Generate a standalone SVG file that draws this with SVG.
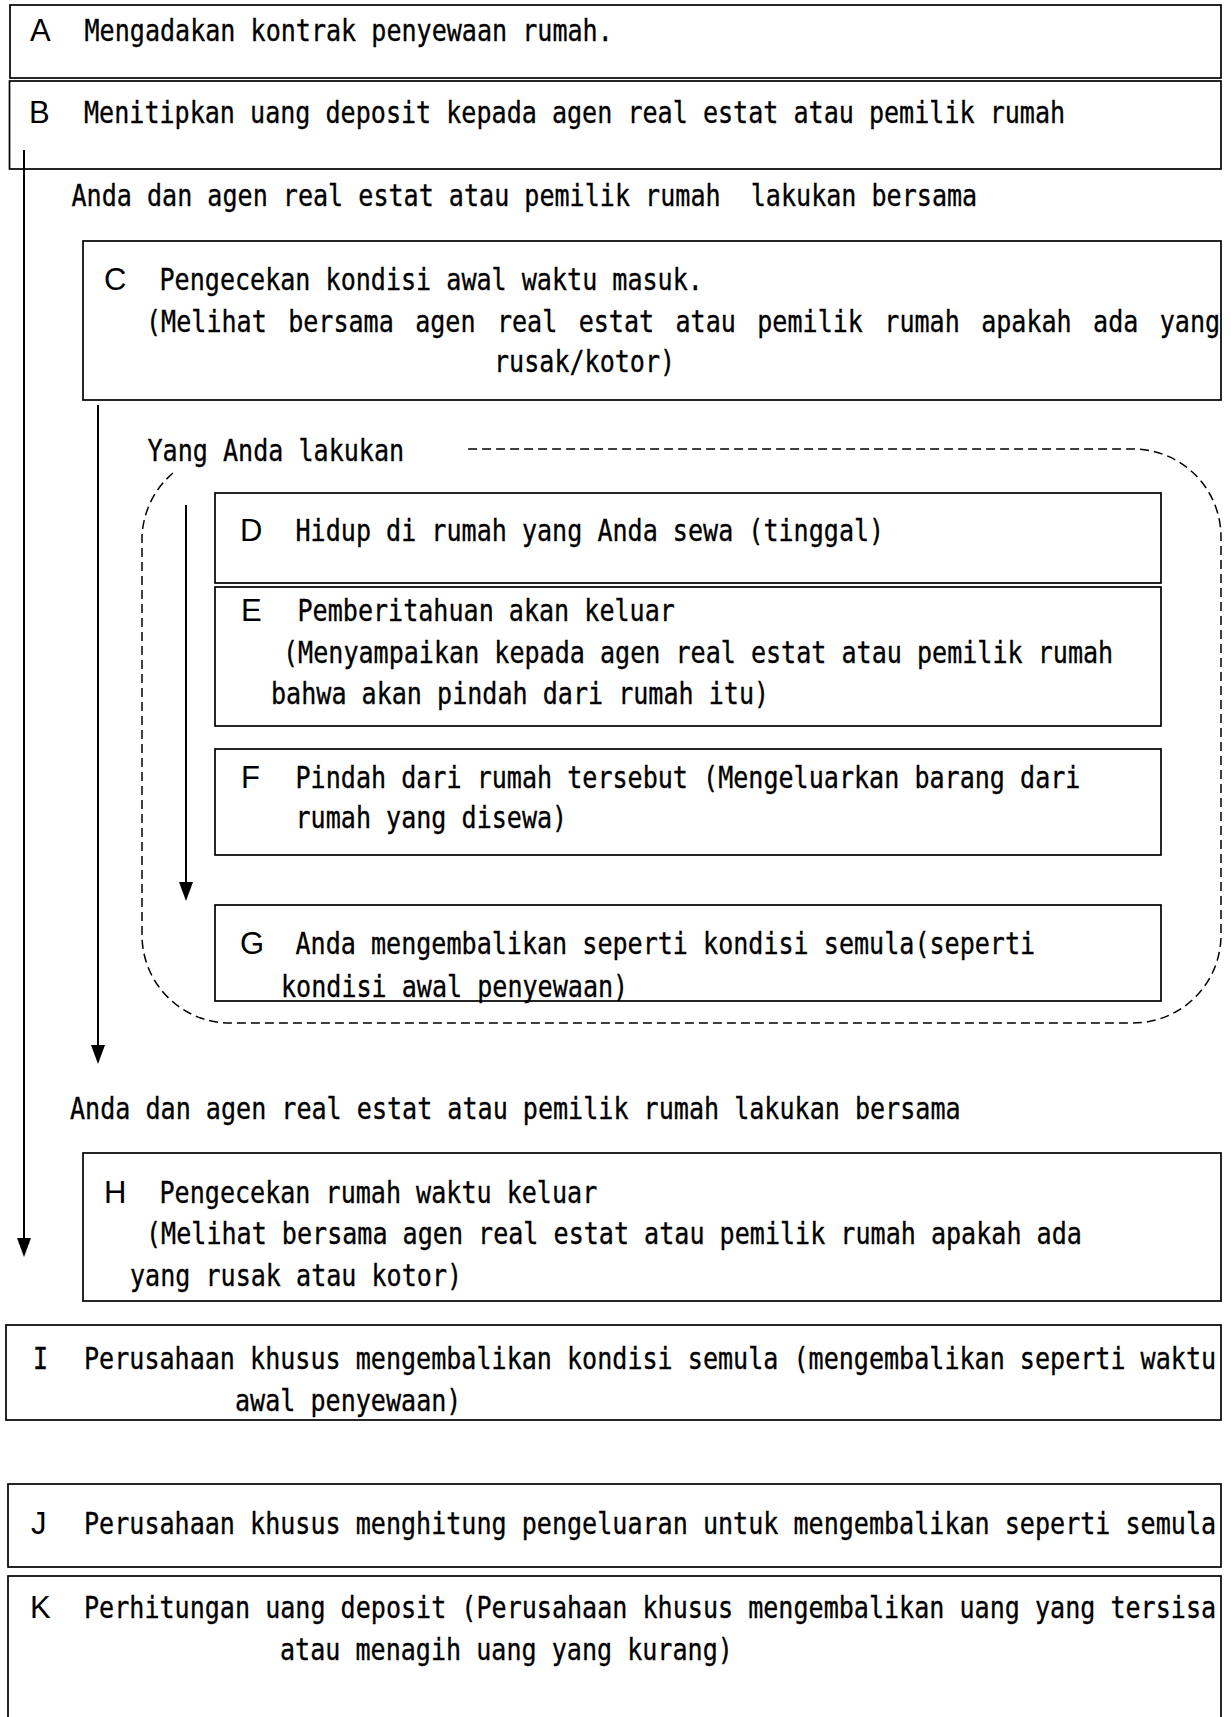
<svg xmlns="http://www.w3.org/2000/svg" width="1231" height="1717" viewBox="0 0 1231 1717">
<defs>
<style>
.box{fill:none;stroke:#000;stroke-width:1.7}
.t{font-family:"DejaVu Sans Mono","Liberation Mono",monospace;font-size:31px;fill:#000;stroke:#000;stroke-width:0.35}
.lb{font-family:"Liberation Sans",Arial,sans-serif;font-size:31px;fill:#000}
.arr{stroke:#000;stroke-width:2;fill:none}
.dash{fill:none;stroke:#000;stroke-width:1.5;stroke-dasharray:9 5}
</style>
<marker id="ah" viewBox="0 0 14 19" refX="7" refY="0" markerWidth="14" markerHeight="19" markerUnits="userSpaceOnUse" orient="0">
<path d="M0,0 L14,0 L7,19 Z" fill="#000"/>
</marker>
</defs>
<rect width="1231" height="1717" fill="#fff"/>

<g id="node-A">
<rect class="box" x="10" y="5" width="1211" height="73"/>
<text class="lb" x="30" y="41">A</text>
<text class="t" transform="translate(84.5,41) scale(0.809,1)">Mengadakan kontrak penyewaan rumah.</text>
</g>

<g id="node-B">
<rect class="box" x="9.5" y="81" width="1211.5" height="88"/>
<text class="lb" x="29" y="123">B</text>
<text class="t" transform="translate(84,123) scale(0.809,1)">Menitipkan uang deposit kepada agen real estat atau pemilik rumah</text>
</g>

<g id="label-bersama-1">
<text class="t" transform="translate(71.5,206) scale(0.809,1)">Anda dan agen real estat atau pemilik rumah &#160;lakukan bersama</text>
</g>

<g id="node-C">
<rect class="box" x="83" y="241" width="1138" height="159"/>
<text class="lb" x="104" y="290">C</text>
<text class="t" transform="translate(159.5,290) scale(0.809,1)">Pengecekan kondisi awal waktu masuk.</text>
<text class="t" word-spacing="7.76" transform="translate(146,332) scale(0.809,1)">(Melihat bersama agen real estat atau pemilik rumah apakah ada yang</text>
<text class="t" transform="translate(494,372) scale(0.809,1)">rusak/kotor)</text>
</g>

<g id="group-yang-anda-lakukan">
<path class="dash" d="M173,473 A88,88 0 0 0 142,537 L142,935 A88,88 0 0 0 230,1023 L1133,1023 A88,88 0 0 0 1221,935 L1221,537 A88,88 0 0 0 1133,449 L465,449"/>
<text class="t" transform="translate(147.5,461) scale(0.809,1)">Yang Anda lakukan</text>
</g>

<g id="node-D">
<rect class="box" x="215" y="493" width="946" height="90"/>
<text class="lb" x="240" y="541">D</text>
<text class="t" transform="translate(295.5,541) scale(0.809,1)">Hidup di rumah yang Anda sewa (tinggal)</text>
</g>

<g id="node-E">
<rect class="box" x="215" y="587" width="946" height="139"/>
<text class="lb" x="241" y="621">E</text>
<text class="t" transform="translate(297.5,621) scale(0.809,1)">Pemberitahuan akan keluar</text>
<text class="t" transform="translate(283,663) scale(0.809,1)">(Menyampaikan kepada agen real estat atau pemilik rumah</text>
<text class="t" transform="translate(271,704) scale(0.809,1)">bahwa akan pindah dari rumah itu)</text>
</g>

<g id="node-F">
<rect class="box" x="215" y="749" width="946" height="106"/>
<text class="lb" x="241" y="788">F</text>
<text class="t" transform="translate(295.5,788) scale(0.809,1)">Pindah dari rumah tersebut (Mengeluarkan barang dari</text>
<text class="t" transform="translate(295.5,828) scale(0.809,1)">rumah yang disewa)</text>
</g>

<g id="node-G">
<rect class="box" x="215" y="905" width="946" height="96"/>
<text class="lb" x="240" y="954">G</text>
<text class="t" transform="translate(295.5,954) scale(0.809,1)">Anda mengembalikan seperti kondisi semula(seperti</text>
<text class="t" transform="translate(281,997) scale(0.809,1)">kondisi awal penyewaan)</text>
</g>

<g id="label-bersama-2">
<text class="t" transform="translate(70,1119) scale(0.809,1)">Anda dan agen real estat atau pemilik rumah lakukan bersama</text>
</g>

<g id="node-H">
<rect class="box" x="83" y="1153" width="1138" height="148"/>
<text class="lb" x="104" y="1203">H</text>
<text class="t" transform="translate(159.5,1203) scale(0.809,1)">Pengecekan rumah waktu keluar</text>
<text class="t" transform="translate(146,1244) scale(0.809,1)">(Melihat bersama agen real estat atau pemilik rumah apakah ada</text>
<text class="t" transform="translate(130,1286) scale(0.809,1)">yang rusak atau kotor)</text>
</g>

<g id="node-I">
<rect class="box" x="6" y="1325" width="1215" height="95"/>
<text class="t" transform="translate(33,1369) scale(0.809,1)">I</text>
<text class="t" transform="translate(84,1369) scale(0.809,1)">Perusahaan khusus mengembalikan kondisi semula (mengembalikan seperti waktu</text>
<text class="t" transform="translate(235,1411) scale(0.809,1)">awal penyewaan)</text>
</g>

<g id="node-J">
<rect class="box" x="8" y="1484" width="1213" height="83"/>
<text class="lb" x="31" y="1534">J</text>
<text class="t" transform="translate(84,1534) scale(0.809,1)">Perusahaan khusus menghitung pengeluaran untuk mengembalikan seperti semula</text>
</g>

<g id="node-K">
<rect class="box" x="8" y="1576" width="1213" height="200"/>
<text class="lb" x="30" y="1618">K</text>
<text class="t" transform="translate(84,1618) scale(0.809,1)">Perhitungan uang deposit (Perusahaan khusus mengembalikan uang yang tersisa</text>
<text class="t" transform="translate(280,1660) scale(0.809,1)">atau menagih uang yang kurang)</text>
</g>

<g id="connectors">
<line class="arr" x1="24" y1="150" x2="24" y2="1238" marker-end="url(#ah)"/>
<line class="arr" x1="98" y1="405" x2="98" y2="1045" marker-end="url(#ah)"/>
<line class="arr" x1="186" y1="505" x2="186" y2="882" marker-end="url(#ah)"/>
</g>
</svg>
